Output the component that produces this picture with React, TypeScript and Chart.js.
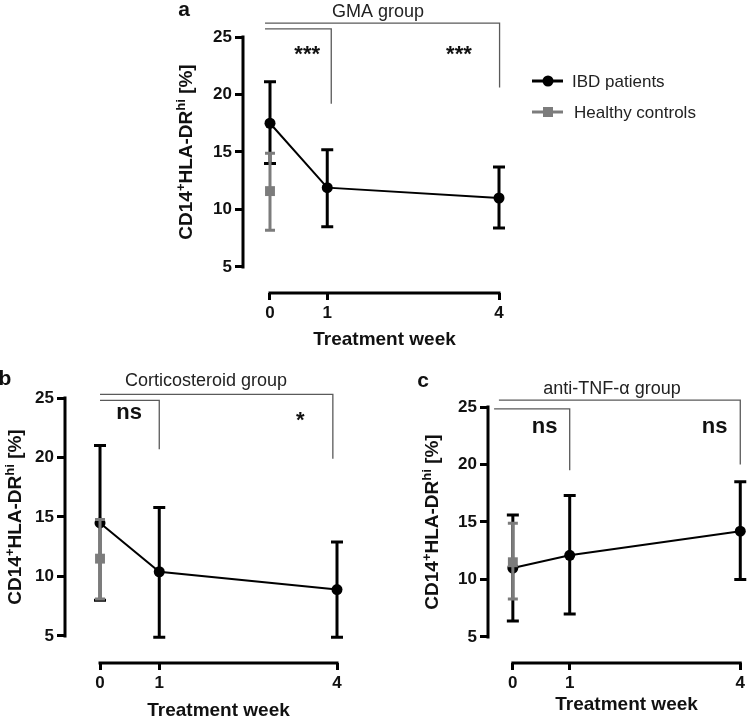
import React, { useEffect, useRef } from "react";
import { Chart, registerables } from "chart.js";
Chart.register(...registerables);

const FAMILY = "'Liberation Sans', Arial, Helvetica, sans-serif";
const GREY = "#7c7c7c";
const BLACK = "#000000";

// ---- shared axis values ----
const weeks = [0, 1, 4];
const weekLabels = ["0", "1", "4"];
const yTickValues = [5, 10, 15, 20, 25];
const yTickLabels = ["5", "10", "15", "20", "25"];
const hcWeeks = [0];
const seriesLabels = ["Healthy controls", "IBD patients"];

// ---- panel a: GMA group ----
const gmaIbdMean = [17.5, 11.9, 11.0];
const gmaIbdLow = [14.0, 8.5, 8.4];
const gmaIbdHigh = [21.1, 15.2, 13.7];
const gmaHcMean = [11.6];
const gmaHcLow = [8.2];
const gmaHcHigh = [14.9];
const gmaSig = ["***", "***"];

// ---- panel b: Corticosteroid group ----
const csIbdMean = [14.5, 10.4, 8.9];
const csIbdLow = [8.0, 4.9, 4.9];
const csIbdHigh = [21.0, 15.8, 12.9];
const csHcMean = [11.5];
const csHcLow = [8.1];
const csHcHigh = [14.8];
const csSig = ["ns", "*"];

// ---- panel c: anti-TNF-α group ----
const tnfIbdMean = [11.0, 12.1, 14.2];
const tnfIbdLow = [6.4, 7.0, 10.0];
const tnfIbdHigh = [15.6, 17.3, 18.5];
const tnfHcMean = [11.5];
const tnfHcLow = [8.3];
const tnfHcHigh = [14.9];
const tnfSig = ["ns", "ns"];

type Series = { xs: number[]; mean: number[]; low: number[]; high: number[] };
type Bracket = { x0: number; x1: number; yTop: number; yEnd: number };
type SigPos = { x: number; y: number; size: number };

interface PanelCfg {
  left: number; top: number; width: number; height: number;
  padding: { left: number; right: number; top: number; bottom: number };
  yWidth: number; xHeight: number;
  xMin: number; xMax: number; yMin: number; yMax: number;
  letter: string; letterPos: [number, number];
  title: string; titlePos: [number, number];
  yTitleOffset: number; xTitleBaseline: number;
  brackets: Bracket[];
  sigText: string[]; sigPos: SigPos[];
  legend?: { x: number; y: number[]; textX: number; baseline: number[] };
  hc: Series; ibd: Series;
}

const panels: PanelCfg[] = [
  {
    left: 150, top: 0, width: 598, height: 360,
    padding: { left: 33, right: 249, top: 37, bottom: 0 },
    yWidth: 60, xHeight: 67,
    xMin: -0.4716, xMax: 4, yMin: 2.739, yMax: 25,
    letter: "a", letterPos: [34, 16],
    title: "GMA group", titlePos: [228, 17],
    yTitleOffset: 58, xTitleBaseline: 52,
    brackets: [
      { x0: -0.087, x1: 4.01, yTop: 26.2, yEnd: 20.6 },
      { x0: -0.087, x1: 1.07, yTop: 25.7, yEnd: 19.2 },
    ],
    sigText: gmaSig,
    sigPos: [{ x: 0.65, y: 22.9, size: 22 }, { x: 3.3, y: 22.9, size: 22 }],
    legend: { x: 382, y: [81, 112], textX: 422, baseline: [87, 118] },
    hc: { xs: hcWeeks, mean: gmaHcMean, low: gmaHcLow, high: gmaHcHigh },
    ibd: { xs: weeks, mean: gmaIbdMean, low: gmaIbdLow, high: gmaIbdHigh },
  },
  {
    left: 0, top: 365, width: 374, height: 353,
    padding: { left: 5, right: 37, top: 33, bottom: 0 },
    yWidth: 60, xHeight: 55,
    xMin: -0.591, xMax: 4, yMin: 2.731, yMax: 25,
    letter: "b", letterPos: [5, 20],
    title: "Corticosteroid group", titlePos: [206, 21],
    yTitleOffset: 51, xTitleBaseline: 53,
    brackets: [
      { x0: 0, x1: 3.93, yTop: 25.3, yEnd: 19.9 },
      { x0: 0, x1: 1.0, yTop: 24.8, yEnd: 20.7 },
    ],
    sigText: csSig,
    sigPos: [{ x: 0.49, y: 23.24, size: 22 }, { x: 3.38, y: 22.6, size: 22 }],
    hc: { xs: hcWeeks, mean: csHcMean, low: csHcLow, high: csHcHigh },
    ibd: { xs: weeks, mean: csIbdMean, low: csIbdLow, high: csIbdHigh },
  },
  {
    left: 374, top: 365, width: 374, height: 353,
    padding: { left: 54, right: 6, top: 42, bottom: 0 },
    yWidth: 60, xHeight: 55,
    xMin: -0.437, xMax: 4, yMin: 2.739, yMax: 25,
    letter: "c", letterPos: [49, 22],
    title: "anti-TNF-\u03b1 group", titlePos: [238, 29],
    yTitleOffset: 57, xTitleBaseline: 47,
    brackets: [
      { x0: -0.245, x1: 4.0, yTop: 25.6, yEnd: 20.0 },
      { x0: -0.33, x1: 1.0, yTop: 24.83, yEnd: 19.5 },
    ],
    sigText: tnfSig,
    sigPos: [{ x: 0.56, y: 22.74, size: 22 }, { x: 3.55, y: 22.74, size: 22 }],
    hc: { xs: hcWeeks, mean: tnfHcMean, low: tnfHcLow, high: tnfHcHigh },
    ibd: { xs: weeks, mean: tnfIbdMean, low: tnfIbdLow, high: tnfIbdHigh },
  },
];

function drawYTitle(ctx: CanvasRenderingContext2D, cx: number, cy: number) {
  const segs = [
    { t: "CD14", sup: false },
    { t: "+", sup: true },
    { t: "HLA-DR", sup: false },
    { t: "hi", sup: true },
    { t: " [%]", sup: false },
  ];
  const mainFont = `bold 19px ${FAMILY}`;
  const supFont = `bold 13px ${FAMILY}`;
  ctx.save();
  ctx.translate(cx, cy);
  ctx.rotate(-Math.PI / 2);
  let total = 0;
  const widths = segs.map((s) => {
    ctx.font = s.sup ? supFont : mainFont;
    const w = ctx.measureText(s.t).width;
    total += w;
    return w;
  });
  let x = -total / 2;
  ctx.fillStyle = "#111";
  ctx.textBaseline = "alphabetic";
  ctx.textAlign = "left";
  segs.forEach((s, i) => {
    ctx.font = s.sup ? supFont : mainFont;
    ctx.fillText(s.t, x, s.sup ? 7 - 7.5 : 7);
    x += widths[i];
  });
  ctx.restore();
}

function makeDecor(cfg: PanelCfg) {
  const styles = [
    { color: GREY, width: 3, cap: 5 },
    { color: BLACK, width: 3, cap: 6 },
  ];
  const series = [cfg.hc, cfg.ibd];
  return {
    id: "decor",
    beforeDatasetDraw(chart: any, args: any) {
      const s = series[args.index];
      const st = styles[args.index];
      const xs = chart.scales.x;
      const ys = chart.scales.y;
      const ctx: CanvasRenderingContext2D = chart.ctx;
      ctx.save();
      ctx.strokeStyle = st.color;
      ctx.lineWidth = st.width;
      ctx.lineCap = "butt";
      s.xs.forEach((xv, i) => {
        const px = xs.getPixelForValue(xv);
        const pl = ys.getPixelForValue(s.low[i]);
        const ph = ys.getPixelForValue(s.high[i]);
        ctx.beginPath();
        ctx.moveTo(px, pl);
        ctx.lineTo(px, ph);
        ctx.moveTo(px - st.cap, pl);
        ctx.lineTo(px + st.cap, pl);
        ctx.moveTo(px - st.cap, ph);
        ctx.lineTo(px + st.cap, ph);
        ctx.stroke();
      });
      ctx.restore();
    },
    afterDraw(chart: any) {
      const ctx: CanvasRenderingContext2D = chart.ctx;
      const xs = chart.scales.x;
      const ys = chart.scales.y;
      const area = chart.chartArea;
      ctx.save();
      // axis lines (offset style)
      ctx.strokeStyle = BLACK;
      ctx.lineWidth = 3;
      ctx.lineCap = "square";
      ctx.beginPath();
      ctx.moveTo(area.left, ys.getPixelForValue(yTickValues[0]));
      ctx.lineTo(area.left, ys.getPixelForValue(yTickValues[yTickValues.length - 1]));
      ctx.moveTo(xs.getPixelForValue(weeks[0]), area.bottom);
      ctx.lineTo(xs.getPixelForValue(weeks[weeks.length - 1]), area.bottom);
      ctx.stroke();

      // significance brackets
      ctx.strokeStyle = "#5a5a5a";
      ctx.lineWidth = 1.3;
      ctx.lineCap = "butt";
      cfg.brackets.forEach((b) => {
        const x0 = xs.getPixelForValue(b.x0);
        const x1 = xs.getPixelForValue(b.x1);
        const yt = ys.getPixelForValue(b.yTop);
        const ye = ys.getPixelForValue(b.yEnd);
        ctx.beginPath();
        ctx.moveTo(x0, yt);
        ctx.lineTo(x1, yt);
        ctx.lineTo(x1, ye);
        ctx.stroke();
      });

      ctx.fillStyle = "#111";
      ctx.textAlign = "center";
      ctx.textBaseline = "alphabetic";
      cfg.sigText.forEach((t, i) => {
        const p = cfg.sigPos[i];
        ctx.font = `bold ${p.size}px ${FAMILY}`;
        ctx.fillText(t, xs.getPixelForValue(p.x), ys.getPixelForValue(p.y));
      });

      // panel letter and title
      ctx.font = `bold 21px ${FAMILY}`;
      ctx.fillText(cfg.letter, cfg.letterPos[0], cfg.letterPos[1]);
      ctx.font = `18px ${FAMILY}`;
      ctx.fillStyle = "#222";
      ctx.fillText(cfg.title, cfg.titlePos[0], cfg.titlePos[1]);

      // x axis title
      ctx.fillStyle = "#111";
      ctx.font = `bold 19px ${FAMILY}`;
      const xc = (xs.getPixelForValue(weeks[0]) + xs.getPixelForValue(weeks[weeks.length - 1])) / 2;
      ctx.fillText("Treatment week", xc, area.bottom + cfg.xTitleBaseline);

      // y axis title
      const yc = (ys.getPixelForValue(yTickValues[0]) + ys.getPixelForValue(yTickValues[yTickValues.length - 1])) / 2;
      drawYTitle(ctx, area.left - cfg.yTitleOffset, yc);

      // legend
      if (cfg.legend) {
        const lg = cfg.legend;
        const order = [1, 0];
        order.forEach((di, row) => {
          const ly = lg.y[row];
          const col = di === 1 ? BLACK : GREY;
          ctx.strokeStyle = col;
          ctx.fillStyle = col;
          ctx.lineWidth = 3;
          ctx.beginPath();
          ctx.moveTo(lg.x, ly);
          ctx.lineTo(lg.x + 31, ly);
          ctx.stroke();
          const cx = lg.x + 16;
          ctx.beginPath();
          if (di === 1) {
            ctx.arc(cx, ly, 5.5, 0, Math.PI * 2);
          } else {
            ctx.rect(cx - 5, ly - 5, 10, 10);
          }
          ctx.fill();
          ctx.fillStyle = "#222";
          ctx.font = `17px ${FAMILY}`;
          ctx.textAlign = "left";
          ctx.fillText(seriesLabels[di], lg.textX + (di === 0 ? 2 : 0), lg.baseline[row]);
        });
      }
      ctx.restore();
    },
  };
}

function Panel({ cfg }: { cfg: PanelCfg }) {
  const ref = useRef<HTMLCanvasElement | null>(null);
  useEffect(() => {
    if (!ref.current) return;
    const tickFont = { family: FAMILY, size: 17, weight: "bold" as const };
    const chart = new Chart(ref.current, {
      type: "scatter",
      data: {
        datasets: [
          {
            label: seriesLabels[0],
            data: cfg.hc.xs.map((x, i) => ({ x, y: cfg.hc.mean[i] })),
            showLine: false,
            pointStyle: "rect",
            pointRadius: 7,
            pointBorderWidth: 0,
            pointBackgroundColor: GREY,
            pointBorderColor: GREY,
            borderColor: GREY,
            clip: false,
          } as any,
          {
            label: seriesLabels[1],
            data: cfg.ibd.xs.map((x, i) => ({ x, y: cfg.ibd.mean[i] })),
            showLine: true,
            borderColor: BLACK,
            borderWidth: 2,
            pointRadius: 5.5,
            pointBorderWidth: 0,
            pointBackgroundColor: BLACK,
            pointBorderColor: BLACK,
            tension: 0,
            clip: false,
          } as any,
        ],
      },
      options: {
        animation: false,
        responsive: true,
        maintainAspectRatio: false,
        devicePixelRatio: 1,
        events: [],
        layout: { padding: cfg.padding },
        plugins: { legend: { display: false }, tooltip: { enabled: false } },
        scales: {
          x: {
            type: "linear",
            min: cfg.xMin,
            max: cfg.xMax,
            afterBuildTicks: (s: any) => {
              s.ticks = weeks.map((v) => ({ value: v }));
            },
            afterFit: (s: any) => {
              s.height = cfg.xHeight;
            },
            ticks: {
              callback: (_v: any, i: number) => weekLabels[i],
              font: tickFont,
              color: "#111",
              padding: 3,
              autoSkip: false,
              maxRotation: 0,
            },
            grid: {
              display: true,
              drawOnChartArea: false,
              drawTicks: true,
              tickLength: 7,
              lineWidth: 3,
              color: BLACK,
            },
            border: { display: false },
          },
          y: {
            type: "linear",
            min: cfg.yMin,
            max: cfg.yMax,
            afterBuildTicks: (s: any) => {
              s.ticks = yTickValues.map((v) => ({ value: v }));
            },
            afterFit: (s: any) => {
              s.width = cfg.yWidth;
            },
            ticks: {
              callback: (_v: any, i: number) => yTickLabels[i],
              font: tickFont,
              color: "#111",
              padding: 3,
              autoSkip: false,
            },
            grid: {
              display: true,
              drawOnChartArea: false,
              drawTicks: true,
              tickLength: 8,
              lineWidth: 3,
              color: BLACK,
            },
            border: { display: false },
          },
        },
      } as any,
      plugins: [makeDecor(cfg) as any],
    });
    return () => chart.destroy();
  }, [cfg]);
  return (
    <div
      style={{
        position: "absolute",
        left: cfg.left,
        top: cfg.top,
        width: cfg.width,
        height: cfg.height,
      }}
    >
      <canvas ref={ref} />
    </div>
  );
}

export default function App() {
  return (
    <div
      style={{
        position: "absolute",
        left: 0,
        top: 0,
        width: 748,
        height: 718,
        background: "#fff",
        overflow: "hidden",
      }}
    >
      {panels.map((p, i) => (
        <Panel key={i} cfg={p} />
      ))}
    </div>
  );
}
